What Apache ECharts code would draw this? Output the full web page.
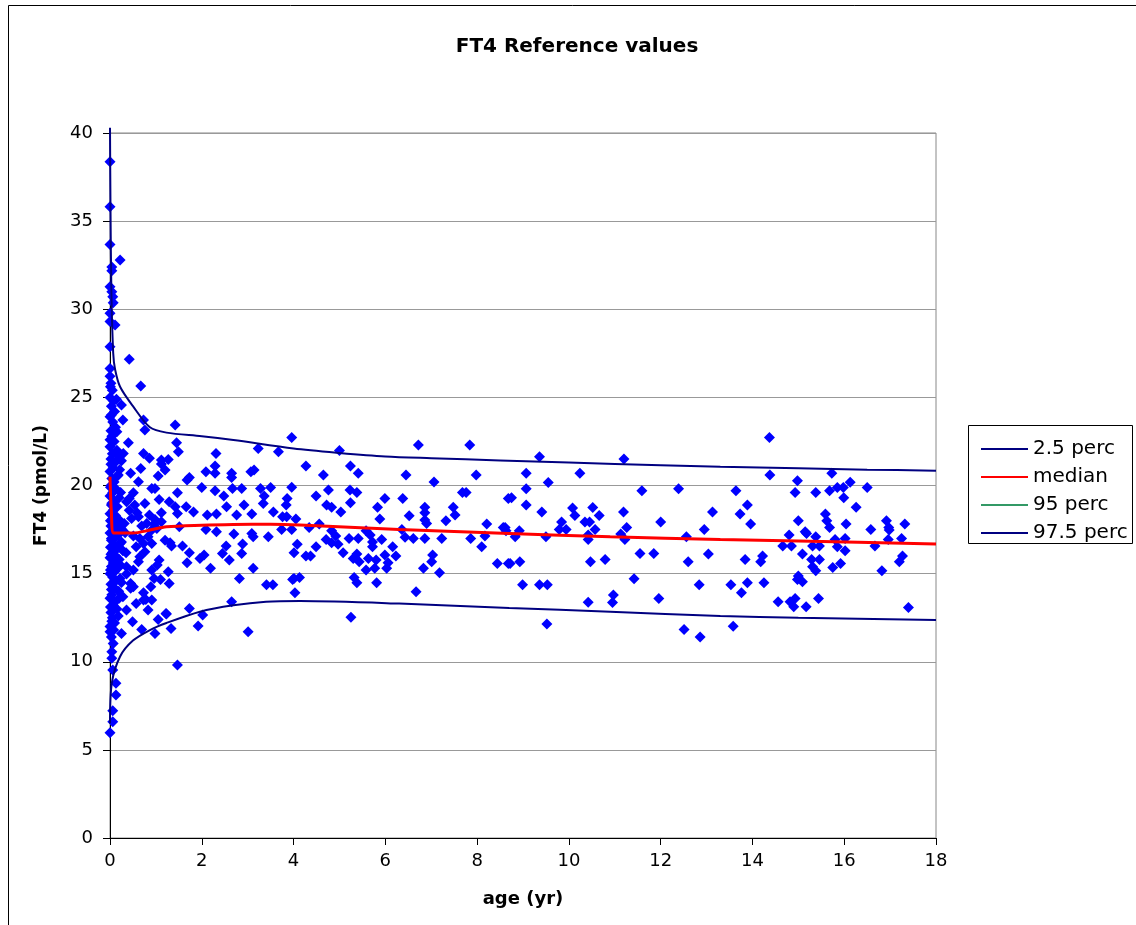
<!DOCTYPE html>
<html>
<head>
<meta charset="utf-8">
<script src="https://cdn.jsdelivr.net/npm/echarts@6/dist/echarts.min.js"></script>
<style>html,body{margin:0;padding:0;background:#fff}#c{width:1136px;height:925px}</style>
</head>
<body>
<div id="c"></div>
<script>
// ---- data (age in years, FT4 in pmol/L) ----
var xTicks = [0, 2, 4, 6, 8, 10, 12, 14, 16, 18];
var yTicks = [0, 5, 10, 15, 20, 25, 30, 35, 40];

var perc975 = [[0,40.3],[0.01,36],[0.03,31],[0.07,27.5],[0.11,26.6],[0.22,25.6],[0.5,24.5],[0.87,23.3],[1.23,23.0],[2,22.8],[2.69,22.58],[4,22.1],[5,21.85],[6,21.65],[7,21.55],[8.5,21.42],[10,21.3],[12,21.15],[13.3,21.07],[15,20.98],[16.5,20.9],[18,20.84]];
var median = [[0,20.5],[0.03,18.5],[0.08,17.3],[0.5,17.3],[0.87,17.47],[1.23,17.66],[2,17.75],[2.69,17.79],[3.5,17.8],[4.14,17.76],[6.3,17.5],[8.7,17.28],[10.9,17.09],[13.3,16.94],[15,16.85],[18,16.68]];
var perc95 = [];
var perc025 = [[0,6.5],[0.04,8.8],[0.22,10.3],[0.5,11.2],[0.87,11.8],[1.23,12.2],[1.96,12.84],[2.69,13.2],[3.4,13.4],[4.14,13.44],[6.3,13.3],[8.7,13.05],[10.9,12.84],[13.3,12.6],[15,12.5],[18,12.37]];

var ft4Newborn = [[0,38.37],[0,35.82],[0,33.68],[0.22,32.8],[0.04,32.4],[0.04,32.18],[0,31.28],[0.04,30.99],[0.06,30.71],[0.07,30.37],[0,29.77],[0,29.3],[0.11,29.1],[0,27.87],[0.42,27.16],[0,26.64],
[0,26.2],[0.02,25.8],[0.05,25.4],[0,25.0],[0.08,24.8],[0.03,24.5],[0.1,24.2],[0,23.9],[0.06,23.6],[0.12,23.3],[0.02,23.1],[0.04,22.8],[0.09,22.5],[0,22.2],[0.15,22.0],[0.05,21.8],[0.02,21.5],[0.11,21.3],[0.07,21.0],[0,20.8],[0.18,20.6],[0.04,20.4],[0.09,20.2],[0.02,20.0],[0.13,19.8],[0.06,19.6],[0,19.4],[0.2,19.3],[0.1,19.1],[0.03,18.9],[0.16,18.8],[0.07,18.6],[0,18.4],[0.12,18.3],[0.05,18.1],[0.22,18.0],[0.09,17.9],[0.02,17.7],[0.14,17.6],[0.06,17.4],[0,17.3],[0.18,17.2],[0.1,17.0],[0.03,16.9],[0.25,16.8],[0.08,16.6],[0.01,16.5],[0.15,16.4],[0.05,16.2],[0.12,16.0],[0,15.9],[0.2,15.8],[0.07,15.6],[0.03,15.4],[0.17,15.3],[0.1,15.1],[0,15.0],[0.06,14.8],[0.13,14.6],[0.02,14.4],[0.09,14.2],[0.19,14.0],[0.04,13.8],[0,13.6],[0.11,13.4],[0.07,13.2],[0.15,13.0],[0.02,12.8],[0.05,12.5],[0.1,12.2],[0,12.0],[0.08,11.8],[0.03,11.4],
[0.01,25.6],[0.03,24.0],[0,22.6],[0.02,21.2],[0.01,19.9],[0.04,19.0],[0.01,18.0],[0.03,17.0],[0.02,16.1],[0.01,15.2],[0.03,14.1],[0.01,13.1],[0.04,12.3],[0.14,24.9],[0.17,21.7],[0.21,20.9],[0.23,19.6],[0.24,17.9],[0.26,17.5],[0.28,16.3],[0.22,15.5],[0.25,14.5],[0.2,13.6],[0.18,12.6],
[0,11.7],[0.07,11.04],[0.04,10.57],[0.04,10.2],[0.06,9.53],[0.13,8.78],[0.13,8.12],[0.06,7.22],[0.06,6.6],[0,5.97]];

var ft4Infant = [[0.67,25.65],[0.25,24.57],[0.28,23.72],[0.73,23.72],[1.42,23.43],[0.15,23.05],[0.76,23.15],[0.4,22.42],[1.45,22.42],[1.49,21.91],[3.23,22.1],[3.67,21.91],[2.31,21.82],[0.73,21.82],[0.29,21.82],[0.86,21.54],[1.27,21.48],[1.12,21.45],[0.25,21.4],[0.67,20.97],[1.12,21.22],[1.2,20.88],[2.29,21.1],[3.14,20.88],[0.45,20.69],[1.05,20.54],[1.73,20.46],[1.68,20.31],[2.09,20.78],[2.29,20.69],[2.65,20.69],[2.65,20.46],[3.07,20.78],[0.16,20.54],
[0.62,20.21],[0.91,19.83],[0.98,19.83],[1.47,19.59],[2.0,19.89],[2.29,19.7],[2.48,19.4],[2.67,19.83],[2.87,19.83],[3.28,19.83],[3.5,19.89],[3.36,19.4],[3.86,19.26],[0.42,19.26],[0.51,19.59],[1.07,19.21],[1.29,19.08],[0.76,18.98],[2.54,18.79],[2.92,18.89],[3.34,18.98],[3.84,18.89],[1.66,18.79],[1.42,18.79],[1.47,18.41],[1.82,18.5],[2.12,18.32],[2.32,18.38],[2.76,18.32],[3.09,18.38],[3.56,18.5],[3.76,18.22],[3.85,18.22],[1.12,18.45],[0.59,18.45],[0.86,18.32],[0.98,18.07],[0.42,18.6],[0.31,17.85],[0.96,17.82],[0.69,17.7],[1.51,17.66],[2.09,17.5],[2.32,17.37],[2.7,17.25],[3.09,17.28],[3.12,17.09],[3.45,17.09],[3.74,17.5],[1.2,16.9],[1.31,16.75],[0.91,16.71],[0.51,17.13],[0.57,16.52],[1.34,16.57],[1.58,16.57],[1.73,16.18],[1.96,15.86],[2.05,16.06],[2.53,16.57],[2.45,16.14],[2.6,15.77],[2.89,16.68],[2.87,16.14],[1.68,15.62],[2.19,15.3],[3.12,15.3],[2.82,14.73],[3.41,14.37],[3.55,14.37],[3.98,14.67],[2.65,13.4],[1.73,13.02],[1.22,12.74],[1.07,15.77],[1.03,15.49],[0.91,15.2],[1.27,15.11],[0.96,14.73],[1.1,14.67],[1.29,14.44],[0.89,14.26],[0.73,13.92],[0.78,13.53],[0.57,13.3],[0.45,14.17],[0.65,15.96],[0.76,16.24],[0.36,15.39],[0.22,14.73],[0.45,14.44],
[0.36,19.08],[0.54,18.89],[0.62,18.22],[0.47,18.13],[0.8,17.85],[1.02,17.56],[1.12,17.94],[0.33,17.32],[0.23,17.66],[0.65,16.99],[0.83,17.09],[0.91,17.47],[0.73,16.71],[0.22,16.71],[0.35,16.18],[0.62,15.67],[0.51,15.2],[0.36,14.98],[0.28,13.69],[0.51,14.26],
[0.73,13.5],[0.91,13.5],[0.83,12.94],[1.23,12.71],[1.05,12.4],[2.02,12.65],[1.92,12.03],[1.33,11.89],[0.98,11.6],[0.69,11.83],[3.01,11.7],[1.47,9.82],[0.36,12.94],[0.49,12.27],[0.25,11.6]];

var ft4Child = [[3.96,22.73],[6.72,22.3],[7.84,22.3],[5.0,21.98],[4.27,21.1],[5.24,21.1],[4.65,20.6],[5.41,20.7],[6.45,20.6],[7.98,20.6],[7.06,20.2],[3.96,19.9],[4.76,19.74],[5.23,19.74],[5.38,19.6],[7.68,19.6],[7.76,19.6],[4.49,19.4],[5.99,19.26],[6.38,19.26],[8.68,19.26],[5.24,19.02],[4.72,18.9],[4.83,18.76],[5.83,18.76],[6.86,18.76],[7.48,18.76],[5.03,18.5],[6.86,18.45],[7.52,18.32],[6.52,18.28],[5.88,18.1],[4.05,18.1],[6.86,18.04],[7.32,18.0],[6.9,17.85],[8.21,17.82],[4.56,17.82],[4.34,17.62],[3.96,17.5],[5.58,17.43],[4.83,17.43],[6.36,17.5],[8.57,17.62],[8.63,17.43],[5.67,17.19],[4.92,17.13],[6.43,17.06],[4.71,16.94],[5.21,16.99],[5.41,16.99],[6.61,16.99],[6.86,16.99],[7.23,16.99],[7.86,16.99],[8.17,17.13],[5.92,16.94],[4.83,16.75],[5.72,16.8],[4.97,16.67],[4.08,16.67],[4.49,16.52],[5.72,16.52],[8.1,16.52],[6.16,16.52],[4.01,16.18],[5.08,16.18],[5.38,16.11],[6.23,16.0],[4.27,16.0],[4.37,16.0],[5.99,16.06],[7.03,16.06],[5.3,15.86],[5.63,15.86],[5.8,15.77],[5.43,15.67],[7.01,15.67],[6.06,15.62],[5.58,15.2],[5.77,15.3],[6.03,15.3],[6.83,15.3],[7.18,15.05],[4.01,14.73],[4.13,14.78],[5.32,14.78],[5.38,14.48],[5.81,14.48],[4.03,13.92],[6.67,13.97],[5.25,12.52],[8.44,15.58],[8.68,15.58]];

var ft4Older = [[9.36,21.63],[11.2,21.5],[9.07,20.69],[10.24,20.69],[9.55,20.17],[9.07,19.81],[11.59,19.7],[12.39,19.81],[8.75,19.3],[9.07,18.89],[10.08,18.73],[10.52,18.75],[9.41,18.5],[10.13,18.3],[10.66,18.3],[11.19,18.5],[13.13,18.5],[9.84,17.93],[10.35,17.93],[10.45,17.93],[12.0,17.93],[8.61,17.62],[8.92,17.43],[9.79,17.5],[9.94,17.5],[10.57,17.5],[11.26,17.62],[12.95,17.5],[8.83,17.09],[9.5,17.09],[10.42,17.19],[11.13,17.25],[11.22,16.94],[10.42,16.94],[12.56,17.09],[8.72,15.58],[8.93,15.67],[10.47,15.67],[10.79,15.8],[11.55,16.14],[11.85,16.14],[12.6,15.67],[13.04,16.11],[11.42,14.71],[8.99,14.37],[9.36,14.37],[9.53,14.37],[12.84,14.37],[10.97,13.79],[10.95,13.36],[10.42,13.38],[11.96,13.59],[9.52,12.14],[12.51,11.83],[12.86,11.41],
[14.37,22.73],[14.38,20.6],[15.73,20.69],[14.98,20.27],[16.13,20.18],[13.64,19.7],[14.93,19.6],[15.38,19.6],[15.68,19.7],[15.85,19.89],[15.98,19.89],[16.5,19.89],[15.99,19.3],[13.89,18.89],[16.26,18.76],[13.73,18.38],[15.59,18.38],[15.0,18.0],[15.62,18.0],[16.92,18.0],[13.96,17.82],[15.68,17.62],[16.04,17.82],[17.32,17.82],[16.58,17.5],[16.97,17.62],[16.98,17.47],[15.15,17.37],[15.18,17.28],[14.8,17.19],[15.38,17.09],[15.8,16.94],[16.02,16.99],[16.96,16.94],[17.25,16.99],[14.66,16.57],[14.85,16.57],[15.31,16.57],[15.46,16.57],[15.85,16.52],[16.67,16.57],[15.09,16.11],[16.02,16.3],[13.84,15.8],[14.22,16.0],[14.18,15.67],[15.29,15.8],[15.46,15.8],[17.27,16.0],[17.2,15.67],[15.31,15.39],[15.38,15.16],[15.75,15.35],[15.92,15.58],[16.82,15.16],[15.0,14.86],[14.98,14.67],[15.09,14.54],[13.53,14.37],[13.89,14.48],[14.25,14.48],[13.76,13.92],[14.56,13.41],[14.82,13.41],[14.93,13.59],[14.9,13.12],[15.17,13.12],[15.44,13.59],[17.4,13.08],[13.58,12.02]];

var ft4Points = ft4Newborn.concat(ft4Infant, ft4Child, ft4Older);

var chart = echarts.init(document.getElementById('c'), null, {renderer: 'canvas'});
var font = '"DejaVu Sans", Verdana, sans-serif';
chart.setOption({
  animation: false,
  backgroundColor: '#fff',
  textStyle: {fontFamily: font},
  title: {
    text: 'FT4 Reference values', left: 572, top: 32, textAlign: 'center',
    textStyle: {fontFamily: font, fontSize: 20, fontWeight: 'bold', color: '#000'}
  },
  graphic: [
    {type: 'rect', shape: {x: 8.5, y: 5.5, width: 1200, height: 1000}, style: {fill: 'none', stroke: '#000', lineWidth: 1}, silent: true, z: -1},
    {type: 'rect', shape: {x: 968.5, y: 425.5, width: 164, height: 118}, style: {fill: '#fff', stroke: '#000', lineWidth: 1}, silent: true, z: 1}
  ],
  legend: {
    orient: 'vertical', left: 976, top: 434, itemWidth: 47, itemHeight: 2, itemGap: 8,
    icon: 'rect',
    data: ['2.5 perc', 'median', '95 perc', '97.5 perc'],
    textStyle: {fontFamily: font, fontSize: 20, color: '#000', lineHeight: 20, padding: [0,0,0,0]},
    z: 5
  },
  grid: {left: 110, right: 200, top: 133, bottom: 87, show: true, borderColor: '#888', borderWidth: 1, backgroundColor: 'transparent'},
  xAxis: {
    type: 'value', min: 0, max: 18, interval: 2,
    name: 'age (yr)', nameLocation: 'middle', nameGap: 52,
    nameTextStyle: {fontFamily: font, fontSize: 18, fontWeight: 'bold', color: '#000'},
    axisLine: {lineStyle: {color: '#000', width: 1}},
    axisTick: {show: true, length: 7, lineStyle: {color: '#000'}},
    axisLabel: {fontFamily: font, fontSize: 18, color: '#000', margin: 14},
    splitLine: {show: false}
  },
  yAxis: {
    type: 'value', min: 0, max: 40, interval: 5,
    name: 'FT4 (pmol/L)', nameLocation: 'middle', nameGap: 60, nameRotate: 90,
    nameTextStyle: {fontFamily: font, fontSize: 17, fontWeight: 'bold', color: '#000'},
    axisLine: {show: true, lineStyle: {color: '#000', width: 1}},
    axisTick: {show: true, length: 7, lineStyle: {color: '#000'}},
    axisLabel: {fontFamily: font, fontSize: 18, color: '#000', margin: 17},
    splitLine: {show: true, lineStyle: {color: '#999', width: 1}}
  },
  series: [
    {name: 'FT4', type: 'scatter', data: ft4Points, symbol: 'diamond', symbolSize: [11, 11],
     itemStyle: {color: '#0000ff', opacity: 1}, z: 2},
    {name: '2.5 perc', type: 'line', data: perc025, symbol: 'none', smooth: 0.3,
     lineStyle: {color: '#000080', width: 2}, itemStyle: {color: '#000080'}, z: 3},
    {name: 'median', type: 'line', data: median, symbol: 'none', smooth: 0.3,
     lineStyle: {color: '#ff0000', width: 3}, itemStyle: {color: '#ff0000'}, z: 3},
    {name: '95 perc', type: 'line', data: perc95, symbol: 'none',
     lineStyle: {color: '#339966', width: 2}, itemStyle: {color: '#339966'}, z: 3},
    {name: '97.5 perc', type: 'line', data: perc975, symbol: 'none', smooth: 0.3, clip: false,
     lineStyle: {color: '#000080', width: 2}, itemStyle: {color: '#000080'}, z: 3}
  ]
});
</script>
</body>
</html>
